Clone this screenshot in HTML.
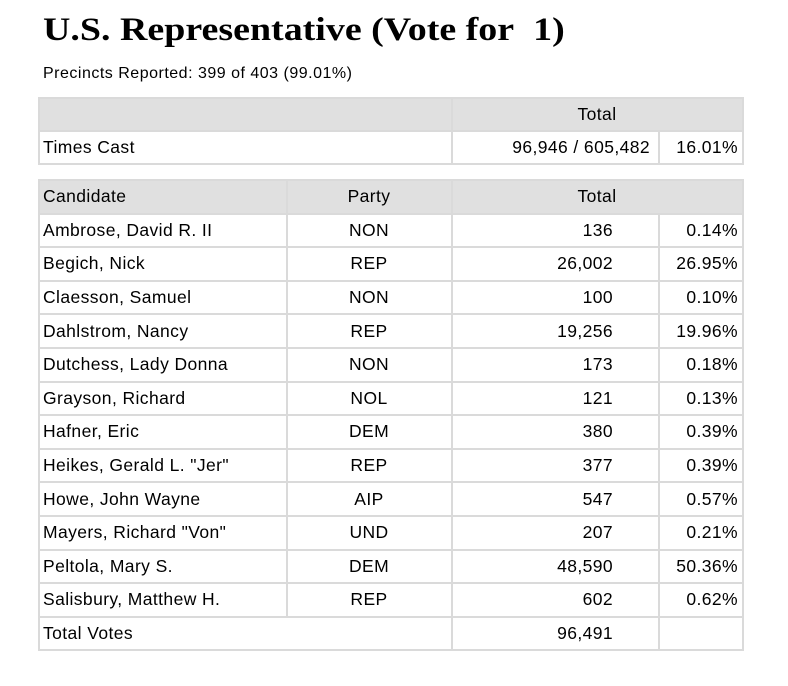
<!DOCTYPE html>
<html><head><style>
body{margin:0;background:#fff;width:788px;height:686px;position:relative;font-family:"Liberation Sans",sans-serif;color:#000}
h1{position:absolute;left:43px;top:12px;margin:0;font-family:"Liberation Serif",serif;font-weight:bold;font-size:33px;transform-origin:0 0;transform:scaleX(1.15);white-space:nowrap}
.sub{position:absolute;left:43px;top:65px;font-size:16px;letter-spacing:0.5px}
table{position:absolute;left:38px;border-collapse:collapse;table-layout:fixed;font-size:17.5px;letter-spacing:0.4px}
td{border:2px solid #dadada;padding:0 4px 0 3px;white-space:nowrap;overflow:hidden}
tr.h td{background:#e0e0e0}
.c{text-align:center}.r{text-align:right}.n{text-align:right;padding-right:45px}
#t1{top:97px;width:704px}
#t1 td{height:31px}
#t2{top:179px;width:704px}
#t2 td{height:31.6px}
</style></head><body>
<h1>U.S. Representative (Vote for&nbsp; 1)</h1>
<div class="sub">Precincts Reported: 399 of 403 (99.01%)</div>
<table id="t1">
<colgroup><col style="width:413px"><col style="width:207px"><col style="width:84px"></colgroup>
<tr class="h"><td></td><td class="c" colspan="2">Total</td></tr>
<tr><td>Times Cast</td><td class="r" style="padding-right:8px">96,946 / 605,482</td><td class="r">16.01%</td></tr>
</table>
<table id="t2">
<colgroup><col style="width:248px"><col style="width:165px"><col style="width:207px"><col style="width:84px"></colgroup>
<tr class="h"><td>Candidate</td><td class="c">Party</td><td class="c" colspan="2">Total</td></tr>
<tr><td>Ambrose, David R. II</td><td class="c">NON</td><td class="n">136</td><td class="r">0.14%</td></tr>
<tr><td>Begich, Nick</td><td class="c">REP</td><td class="n">26,002</td><td class="r">26.95%</td></tr>
<tr><td>Claesson, Samuel</td><td class="c">NON</td><td class="n">100</td><td class="r">0.10%</td></tr>
<tr><td>Dahlstrom, Nancy</td><td class="c">REP</td><td class="n">19,256</td><td class="r">19.96%</td></tr>
<tr><td>Dutchess, Lady Donna</td><td class="c">NON</td><td class="n">173</td><td class="r">0.18%</td></tr>
<tr><td>Grayson, Richard</td><td class="c">NOL</td><td class="n">121</td><td class="r">0.13%</td></tr>
<tr><td>Hafner, Eric</td><td class="c">DEM</td><td class="n">380</td><td class="r">0.39%</td></tr>
<tr><td>Heikes, Gerald L. "Jer"</td><td class="c">REP</td><td class="n">377</td><td class="r">0.39%</td></tr>
<tr><td>Howe, John Wayne</td><td class="c">AIP</td><td class="n">547</td><td class="r">0.57%</td></tr>
<tr><td>Mayers, Richard "Von"</td><td class="c">UND</td><td class="n">207</td><td class="r">0.21%</td></tr>
<tr><td>Peltola, Mary S.</td><td class="c">DEM</td><td class="n">48,590</td><td class="r">50.36%</td></tr>
<tr><td>Salisbury, Matthew H.</td><td class="c">REP</td><td class="n">602</td><td class="r">0.62%</td></tr>
<tr><td colspan="2">Total Votes</td><td class="n">96,491</td><td></td></tr>
</table>
</body></html>
